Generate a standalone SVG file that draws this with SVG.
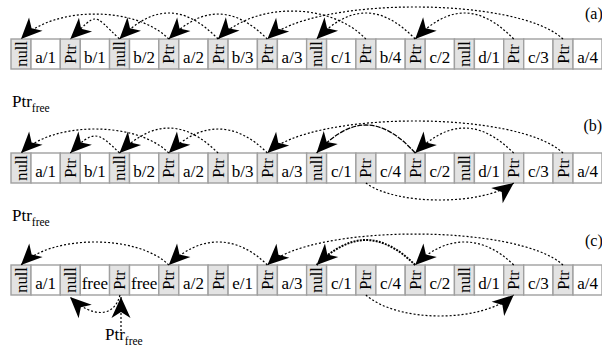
<svg xmlns="http://www.w3.org/2000/svg" width="602" height="349" viewBox="0 0 602 349">
<style>
.n{fill:#e3e3e3;stroke:#a0a0a0;stroke-width:1.4}
.w{fill:#fff;stroke:#a0a0a0;stroke-width:1.4}
text{font-family:"Liberation Serif","Times New Roman",serif;fill:#000}
.t{font-size:17px;text-anchor:middle}
.v{font-size:16.5px;text-anchor:middle}
.lb{font-size:17px}
.sub{font-size:11.5px}
.d{fill:none;stroke:#000;stroke-width:1.2;stroke-dasharray:2 2;marker-end:url(#ah)}
.s{fill:none;stroke:#000;stroke-width:1.3;stroke-dasharray:5 1.2;marker-end:url(#ah)}
.k{fill:none;stroke:#000;stroke-width:2;stroke-dasharray:2 1.2;marker-end:url(#ah)}
</style>
<defs>
<marker id="ah" viewBox="-23 -11 24 22" markerWidth="24" markerHeight="22" refX="0" refY="0" orient="auto" markerUnits="userSpaceOnUse">
<path d="M0,0 L-21,-9.5 L-15,0 L-21,9.5 Z" fill="#000"/>
</marker>
</defs>

<text x="585" y="19" style="font-size:16px">(a)</text>
<text x="583.5" y="131" style="font-size:16px">(b)</text>
<text x="585" y="246" style="font-size:16px">(c)</text>
<text class="lb" x="12" y="107">Ptr<tspan class="sub" dy="5">free</tspan></text>
<text class="lb" x="12" y="221">Ptr<tspan class="sub" dy="5">free</tspan></text>
<text class="lb" x="105" y="340">Ptr<tspan class="sub" dy="5">free</tspan></text>

<!-- row a -->
<g id="a0"><rect class="n" x="11" y="39" width="20" height="30"/><rect class="w" x="31" y="39" width="29.3" height="30"/><text class="v" transform="translate(26.5,54) rotate(-90)">null</text><text class="t" x="45.6" y="63">a/1</text></g>
<g id="a1"><rect class="n" x="60.3" y="39" width="20" height="30"/><rect class="w" x="80.3" y="39" width="29.3" height="30"/><text class="v" transform="translate(75.8,54) rotate(-90)">Ptr</text><text class="t" x="94.9" y="63">b/1</text></g>
<g id="a2"><rect class="n" x="109.5" y="39" width="20" height="30"/><rect class="w" x="129.5" y="39" width="29.3" height="30"/><text class="v" transform="translate(125,54) rotate(-90)">null</text><text class="t" x="144.2" y="63">b/2</text></g>
<g id="a3"><rect class="n" x="158.8" y="39" width="20" height="30"/><rect class="w" x="178.8" y="39" width="29.3" height="30"/><text class="v" transform="translate(174.3,54) rotate(-90)">Ptr</text><text class="t" x="193.5" y="63">a/2</text></g>
<g id="a4"><rect class="n" x="208.1" y="39" width="20" height="30"/><rect class="w" x="228.1" y="39" width="29.3" height="30"/><text class="v" transform="translate(223.6,54) rotate(-90)">Ptr</text><text class="t" x="242.7" y="63">b/3</text></g>
<g id="a5"><rect class="n" x="257.4" y="39" width="20" height="30"/><rect class="w" x="277.4" y="39" width="29.3" height="30"/><text class="v" transform="translate(272.9,54) rotate(-90)">Ptr</text><text class="t" x="292" y="63">a/3</text></g>
<g id="a6"><rect class="n" x="306.6" y="39" width="20" height="30"/><rect class="w" x="326.6" y="39" width="29.3" height="30"/><text class="v" transform="translate(322.1,54) rotate(-90)">null</text><text class="t" x="341.3" y="63">c/1</text></g>
<g id="a7"><rect class="n" x="355.9" y="39" width="20" height="30"/><rect class="w" x="375.9" y="39" width="29.3" height="30"/><text class="v" transform="translate(371.4,54) rotate(-90)">Ptr</text><text class="t" x="390.5" y="63">b/4</text></g>
<g id="a8"><rect class="n" x="405.2" y="39" width="20" height="30"/><rect class="w" x="425.2" y="39" width="29.3" height="30"/><text class="v" transform="translate(420.7,54) rotate(-90)">Ptr</text><text class="t" x="439.8" y="63">c/2</text></g>
<g id="a9"><rect class="n" x="454.4" y="39" width="20" height="30"/><rect class="w" x="474.4" y="39" width="29.3" height="30"/><text class="v" transform="translate(469.9,54) rotate(-90)">null</text><text class="t" x="489.1" y="63">d/1</text></g>
<g id="a10"><rect class="n" x="503.7" y="39" width="20" height="30"/><rect class="w" x="523.7" y="39" width="29.3" height="30"/><text class="v" transform="translate(519.2,54) rotate(-90)">Ptr</text><text class="t" x="538.4" y="63">c/3</text></g>
<g id="a11"><rect class="n" x="553" y="39" width="20" height="30"/><rect class="w" x="573" y="39" width="29" height="30"/><text class="v" transform="translate(568.5,54) rotate(-90)">Ptr</text><text class="t" x="587.6" y="63">a/4</text></g>

<!-- row b -->
<g id="b0"><rect class="n" x="11" y="153" width="20" height="30"/><rect class="w" x="31" y="153" width="29.3" height="30"/><text class="v" transform="translate(26.5,168) rotate(-90)">null</text><text class="t" x="45.6" y="177">a/1</text></g>
<g id="b1"><rect class="n" x="60.3" y="153" width="20" height="30"/><rect class="w" x="80.3" y="153" width="29.3" height="30"/><text class="v" transform="translate(75.8,168) rotate(-90)">Ptr</text><text class="t" x="94.9" y="177">b/1</text></g>
<g id="b2"><rect class="n" x="109.5" y="153" width="20" height="30"/><rect class="w" x="129.5" y="153" width="29.3" height="30"/><text class="v" transform="translate(125,168) rotate(-90)">null</text><text class="t" x="144.2" y="177">b/2</text></g>
<g id="b3"><rect class="n" x="158.8" y="153" width="20" height="30"/><rect class="w" x="178.8" y="153" width="29.3" height="30"/><text class="v" transform="translate(174.3,168) rotate(-90)">Ptr</text><text class="t" x="193.5" y="177">a/2</text></g>
<g id="b4"><rect class="n" x="208.1" y="153" width="20" height="30"/><rect class="w" x="228.1" y="153" width="29.3" height="30"/><text class="v" transform="translate(223.6,168) rotate(-90)">Ptr</text><text class="t" x="242.7" y="177">b/3</text></g>
<g id="b5"><rect class="n" x="257.4" y="153" width="20" height="30"/><rect class="w" x="277.4" y="153" width="29.3" height="30"/><text class="v" transform="translate(272.9,168) rotate(-90)">Ptr</text><text class="t" x="292" y="177">a/3</text></g>
<g id="b6"><rect class="n" x="306.6" y="153" width="20" height="30"/><rect class="w" x="326.6" y="153" width="29.3" height="30"/><text class="v" transform="translate(322.1,168) rotate(-90)">null</text><text class="t" x="341.3" y="177">c/1</text></g>
<g id="b7"><rect class="n" x="355.9" y="153" width="20" height="30"/><rect class="w" x="375.9" y="153" width="29.3" height="30"/><text class="v" transform="translate(371.4,168) rotate(-90)">Ptr</text><text class="t" x="390.5" y="177">c/4</text></g>
<g id="b8"><rect class="n" x="405.2" y="153" width="20" height="30"/><rect class="w" x="425.2" y="153" width="29.3" height="30"/><text class="v" transform="translate(420.7,168) rotate(-90)">Ptr</text><text class="t" x="439.8" y="177">c/2</text></g>
<g id="b9"><rect class="n" x="454.4" y="153" width="20" height="30"/><rect class="w" x="474.4" y="153" width="29.3" height="30"/><text class="v" transform="translate(469.9,168) rotate(-90)">null</text><text class="t" x="489.1" y="177">d/1</text></g>
<g id="b10"><rect class="n" x="503.7" y="153" width="20" height="30"/><rect class="w" x="523.7" y="153" width="29.3" height="30"/><text class="v" transform="translate(519.2,168) rotate(-90)">Ptr</text><text class="t" x="538.4" y="177">c/3</text></g>
<g id="b11"><rect class="n" x="553" y="153" width="20" height="30"/><rect class="w" x="573" y="153" width="29" height="30"/><text class="v" transform="translate(568.5,168) rotate(-90)">Ptr</text><text class="t" x="587.6" y="177">a/4</text></g>

<!-- row c -->
<g id="c0"><rect class="n" x="11" y="265" width="20" height="30"/><rect class="w" x="31" y="265" width="29.3" height="30"/><text class="v" transform="translate(26.5,280) rotate(-90)">null</text><text class="t" x="45.6" y="289">a/1</text></g>
<g id="c1"><rect class="n" x="60.3" y="265" width="20" height="30"/><rect class="w" x="80.3" y="265" width="29.3" height="30"/><text class="v" transform="translate(75.8,280) rotate(-90)">null</text><text class="t" x="94.9" y="289">free</text></g>
<g id="c2"><rect class="n" x="109.5" y="265" width="20" height="30"/><rect class="w" x="129.5" y="265" width="29.3" height="30"/><text class="v" transform="translate(125,280) rotate(-90)">Ptr</text><text class="t" x="144.2" y="289">free</text></g>
<g id="c3"><rect class="n" x="158.8" y="265" width="20" height="30"/><rect class="w" x="178.8" y="265" width="29.3" height="30"/><text class="v" transform="translate(174.3,280) rotate(-90)">Ptr</text><text class="t" x="193.5" y="289">a/2</text></g>
<g id="c4"><rect class="n" x="208.1" y="265" width="20" height="30"/><rect class="w" x="228.1" y="265" width="29.3" height="30"/><text class="v" transform="translate(223.6,280) rotate(-90)">Ptr</text><text class="t" x="242.7" y="289">e/1</text></g>
<g id="c5"><rect class="n" x="257.4" y="265" width="20" height="30"/><rect class="w" x="277.4" y="265" width="29.3" height="30"/><text class="v" transform="translate(272.9,280) rotate(-90)">Ptr</text><text class="t" x="292" y="289">a/3</text></g>
<g id="c6"><rect class="n" x="306.6" y="265" width="20" height="30"/><rect class="w" x="326.6" y="265" width="29.3" height="30"/><text class="v" transform="translate(322.1,280) rotate(-90)">null</text><text class="t" x="341.3" y="289">c/1</text></g>
<g id="c7"><rect class="n" x="355.9" y="265" width="20" height="30"/><rect class="w" x="375.9" y="265" width="29.3" height="30"/><text class="v" transform="translate(371.4,280) rotate(-90)">Ptr</text><text class="t" x="390.5" y="289">c/4</text></g>
<g id="c8"><rect class="n" x="405.2" y="265" width="20" height="30"/><rect class="w" x="425.2" y="265" width="29.3" height="30"/><text class="v" transform="translate(420.7,280) rotate(-90)">Ptr</text><text class="t" x="439.8" y="289">c/2</text></g>
<g id="c9"><rect class="n" x="454.4" y="265" width="20" height="30"/><rect class="w" x="474.4" y="265" width="29.3" height="30"/><text class="v" transform="translate(469.9,280) rotate(-90)">null</text><text class="t" x="489.1" y="289">d/1</text></g>
<g id="c10"><rect class="n" x="503.7" y="265" width="20" height="30"/><rect class="w" x="523.7" y="265" width="29.3" height="30"/><text class="v" transform="translate(519.2,280) rotate(-90)">Ptr</text><text class="t" x="538.4" y="289">c/3</text></g>
<g id="c11"><rect class="n" x="553" y="265" width="20" height="30"/><rect class="w" x="573" y="265" width="29" height="30"/><text class="v" transform="translate(568.5,280) rotate(-90)">Ptr</text><text class="t" x="587.6" y="289">a/4</text></g>

<g id="connectors">
<path class="d" d="M168.8,39 C135.8,5.7 54,5.7 21,39"/>
<path class="d" d="M119.5,39 C91.5,12.3 98.3,12.3 70.3,39"/>
<path class="d" d="M218.1,39 C184.1,4.3 153.5,4.3 119.5,39"/>
<path class="d" d="M267.4,39 C233.4,5.7 202.8,5.7 168.8,39"/>
<path class="d" d="M365.9,39 C329.9,1.7 254.1,1.7 218.1,39"/>
<path class="d" d="M563,39 C518,-3.7 312.4,-3.7 267.4,39"/>
<path class="d" d="M415.2,39 C381.2,4.3 350.6,4.3 316.6,39"/>
<path class="d" d="M513.7,39 C479.7,4.3 449.2,4.3 415.2,39"/>

<path class="d" d="M168.8,153 C136.8,121 53,121 21,153"/>
<path class="d" d="M119.5,153 C96.8,130.3 93,130.3 70.3,153"/>
<path class="d" d="M218.1,153 C184.1,119.7 153.5,119.7 119.5,153"/>
<path class="d" d="M267.4,153 C235.4,121 200.8,121 168.8,153"/>
<path class="d" d="M563,153 C518,110.3 312.4,110.3 267.4,153"/>
<path class="s" d="M415.2,153 C381.2,115.7 350.6,115.7 316.6,153"/>
<path class="d" d="M513.7,153 C479.7,119.7 449.2,119.7 415.2,153"/>
<path class="d" d="M365.9,183 C395.9,205.7 483.7,205.7 513.7,183"/>

<path class="d" d="M168.8,265 C137.8,234.3 52,234.3 21,265"/>
<path class="d" d="M267.4,265 C236.4,234.3 199.8,234.3 168.8,265"/>
<path class="d" d="M563,265 C518,223.7 312.4,223.7 267.4,265"/>
<path class="k" d="M415.2,265 C381.2,231.7 350.6,231.7 316.6,265"/>
<path class="d" d="M513.7,265 C482.7,234.3 446.2,234.3 415.2,265"/>
<path class="d" d="M365.9,295 C397.9,323 481.7,323 513.7,295"/>
<path class="d" d="M120,295 C114,318 92,318 70,297"/>
<path class="d" d="M121,331 L121,297"/>
</g>
</svg>
